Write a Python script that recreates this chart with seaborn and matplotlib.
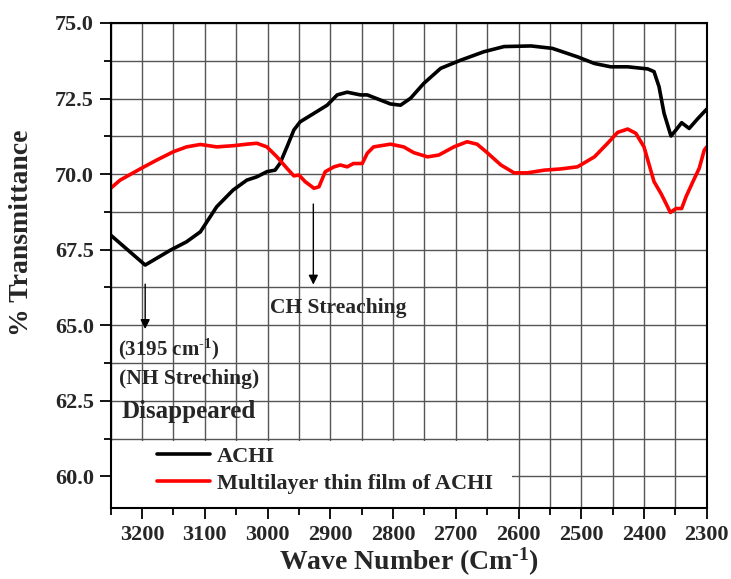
import numpy as np
import pandas as pd
import matplotlib
matplotlib.use("Agg")
import matplotlib.pyplot as plt
from matplotlib.ticker import MultipleLocator
from matplotlib.patches import Rectangle
import seaborn as sns

# ---- data ----
achi_x = [3250, 3195, 3155, 3129, 3107, 3081, 3055, 3033, 3017, 3001, 2988, 2980,
          2969, 2958, 2948, 2926, 2905, 2889, 2873, 2852, 2841, 2804, 2788, 2772,
          2751, 2724, 2692, 2655, 2623, 2580, 2546, 2506, 2479, 2453, 2426, 2394,
          2384, 2376, 2368, 2357, 2349, 2340, 2328, 2314, 2300]
achi_y = [67.98, 66.99, 67.48, 67.76, 68.09, 68.92, 69.47, 69.80, 69.91, 70.08, 70.13, 70.36,
          70.90, 71.46, 71.73, 72.01, 72.28, 72.62, 72.71, 72.62, 72.62, 72.32, 72.28, 72.51,
          73.00, 73.50, 73.77, 74.05, 74.22, 74.24, 74.16, 73.88, 73.66, 73.55, 73.55, 73.48,
          73.39, 72.89, 72.01, 71.26, 71.46, 71.70, 71.51, 71.84, 72.15]

film_x = [3250, 3235, 3203, 3177, 3150, 3129, 3107, 3081, 3054, 3033, 3017, 3001,
          2985, 2969, 2958, 2950, 2940, 2926, 2918, 2908, 2894, 2884, 2873, 2863,
          2849, 2841, 2831, 2804, 2783, 2767, 2745, 2727, 2703, 2682, 2666, 2650,
          2628, 2607, 2586, 2559, 2533, 2506, 2479, 2458, 2442, 2426, 2413, 2400,
          2384, 2373, 2365, 2358, 2349, 2340, 2333, 2322, 2312, 2304, 2300]
film_y = [69.53, 69.80, 70.17, 70.46, 70.74, 70.90, 70.98, 70.90, 70.94, 70.99, 71.02, 70.90,
          70.57, 70.19, 69.94, 69.97, 69.75, 69.53, 69.58, 70.08, 70.24, 70.30, 70.24, 70.35,
          70.35, 70.69, 70.90, 70.99, 70.90, 70.71, 70.57, 70.63, 70.90, 71.07, 70.99, 70.71,
          70.30, 70.04, 70.04, 70.13, 70.17, 70.24, 70.57, 71.02, 71.38, 71.49, 71.35, 70.90,
          69.75, 69.36, 69.03, 68.73, 68.86, 68.86, 69.25, 69.75, 70.19, 70.79, 70.90]

series_names = ["ACHI", "Multilayer thin film of ACHI"]
series_colors = ["black", "red"]
x_ticks = [3200, 3100, 3000, 2900, 2800, 2700, 2600, 2500, 2400, 2300]
y_ticks = [60.0, 62.5, 65.0, 67.5, 70.0, 72.5, 75.0]

df = pd.concat([
    pd.DataFrame({"wave": achi_x, "T": achi_y, "series": series_names[0]}),
    pd.DataFrame({"wave": film_x, "T": film_y, "series": series_names[1]}),
])

sns.set_style("white")
plt.rcParams["font.family"] = ["Liberation Serif", "DejaVu Serif"]
plt.rcParams["font.weight"] = "bold"
plt.rcParams["mathtext.fontset"] = "custom"
plt.rcParams["mathtext.rm"] = "Liberation Serif:bold"
plt.rcParams["mathtext.bf"] = "Liberation Serif:bold"
plt.rcParams["mathtext.default"] = "bf"

fig = plt.figure(figsize=(7.31, 5.79), dpi=100)
ax = fig.add_axes([0.1514, 0.1226, 0.8154, 0.8377])

sns.lineplot(data=df, x="wave", y="T", hue="series", palette=series_colors,
             hue_order=series_names, sort=False, estimator=None, lw=2.6, ax=ax,
             legend=False)

ax.set_xlim(3250, 2300)
ax.set_ylim(58.95, 75.0)
ax.set_xticks(x_ticks)
ax.set_yticks(y_ticks)
ax.set_yticklabels([f"{v:.1f}" for v in y_ticks])
ax.xaxis.set_minor_locator(MultipleLocator(50))
ax.yaxis.set_minor_locator(MultipleLocator(1.25))
ax.grid(True, which="both", color="#555555", lw=1.0)
ax.set_axisbelow(True)
ax.tick_params(which="major", direction="out", length=8, width=1.3, labelsize=16,
               color="black", left=True, bottom=True, pad=4)
ax.tick_params(which="minor", direction="out", length=5, width=1.3,
               color="black", left=True, bottom=True)
for lab in ax.get_xticklabels() + ax.get_yticklabels():
    lab.set_fontweight("bold")
for sp in ax.spines.values():
    sp.set_color("black")
    sp.set_linewidth(1.5)

ax.set_xlabel("Wave Number (Cm$^{\\text{-1}}$)", fontsize=20, fontweight="bold", labelpad=1)
ax.set_ylabel("% Transmittance", fontsize=20, fontweight="bold")
ax.yaxis.set_label_coords(-0.128, 0.567)

# white area behind legend
ax.add_patch(Rectangle((0, 0), 0.673, 0.138, transform=ax.transAxes,
                       facecolor="white", edgecolor="none", zorder=1))
handles = [plt.Line2D([], [], color=c, lw=2.6) for c in series_colors]
ax.legend(handles, series_names, loc="upper left", bbox_to_anchor=(0.078, 0.127),
          frameon=False, borderaxespad=0, borderpad=0, handlelength=2.4,
          handletextpad=0.3, labelspacing=0.28,
          prop={"family": "Liberation Serif", "weight": "bold", "size": 16})

# annotations
arrow = dict(arrowstyle="-|>", color="black", lw=1.0, mutation_scale=14)
ax.annotate("", xy=(3195, 64.78), xytext=(3195, 66.45), arrowprops=arrow, zorder=5)
ax.annotate("", xy=(2927, 66.25), xytext=(2927, 69.1), arrowprops=arrow, zorder=5)
ax.text(2996, 65.40, "CH Streaching", fontsize=15.5, fontweight="bold", va="baseline", ha="left")
ax.text(3238, 64.00, "(3195 cm$^{\\text{-1}}$)", fontsize=15, fontweight="bold", va="baseline", ha="left")
ax.text(3237, 63.07, "(NH Streching)", fontsize=15.5, fontweight="bold", va="baseline", ha="left")
ax.text(3232, 61.92, "Disappeared", fontsize=18, fontweight="bold", va="baseline", ha="left")

fig.savefig("out.png", dpi=100)
